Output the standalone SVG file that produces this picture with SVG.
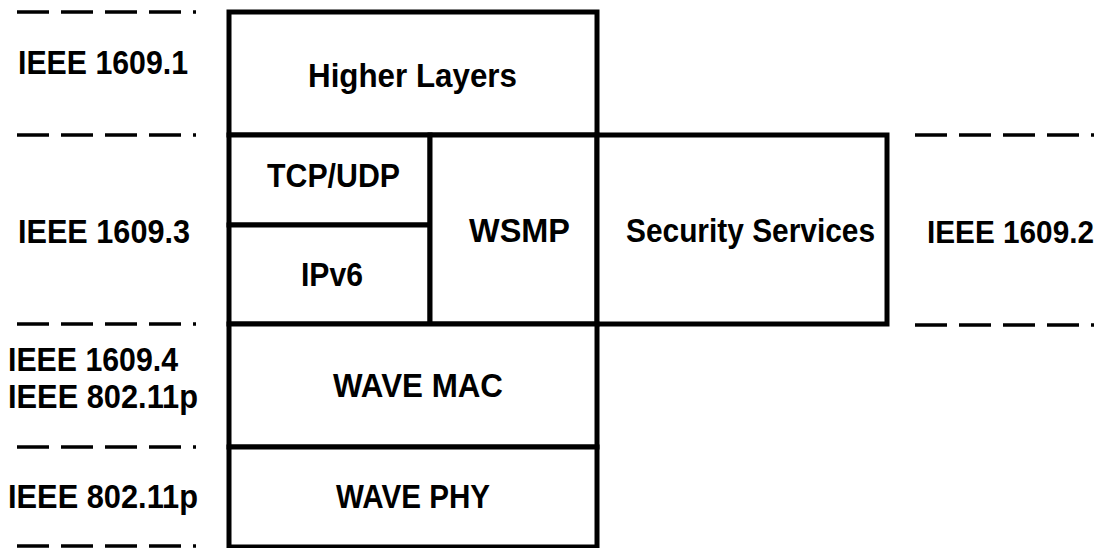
<svg xmlns="http://www.w3.org/2000/svg" width="1108" height="548" viewBox="0 0 1108 548">
  <style>
    .box { fill: #ffffff; stroke: #000000; stroke-width: 5; }
    .sep { stroke: #000000; stroke-width: 3.5; stroke-dasharray: 32 12; fill: none; }
    text { font-family: "Liberation Sans", Arial, sans-serif; font-weight: bold; font-size: 33px; fill: #000000; }
    .edge { font-size: 31px; }
  </style>
  <rect x="0" y="0" width="1108" height="548" fill="#ffffff"/>

  <!-- dashed layer separators -->
  <g id="connectors">
    <line class="sep" x1="17" y1="12" x2="196" y2="12"/>
    <line class="sep" x1="17" y1="135" x2="196" y2="135"/>
    <line class="sep" x1="17" y1="324" x2="196" y2="324"/>
    <line class="sep" x1="17" y1="447" x2="196" y2="447"/>
    <line class="sep" x1="17" y1="546" x2="196" y2="546"/>
    <line class="sep" x1="915" y1="135" x2="1094" y2="135"/>
    <line class="sep" x1="915" y1="325" x2="1094" y2="325"/>
  </g>

  <!-- protocol stack -->
  <g id="higher-layers">
    <rect class="box" x="229" y="12" width="368" height="123"/>
    <text x="308" y="87" textLength="209" lengthAdjust="spacingAndGlyphs">Higher Layers</text>
  </g>
  <g id="tcp-udp">
    <rect class="box" x="229" y="135" width="201" height="90"/>
    <text x="267" y="187" textLength="133" lengthAdjust="spacingAndGlyphs">TCP/UDP</text>
  </g>
  <g id="ipv6">
    <rect class="box" x="229" y="225" width="201" height="99"/>
    <text x="301" y="286" textLength="62" lengthAdjust="spacingAndGlyphs">IPv6</text>
  </g>
  <g id="wsmp">
    <rect class="box" x="430" y="135" width="167" height="189"/>
    <text x="469" y="242" textLength="101" lengthAdjust="spacingAndGlyphs">WSMP</text>
  </g>
  <g id="security-services">
    <rect class="box" x="597" y="135" width="290" height="189"/>
    <text x="626" y="242" textLength="249" lengthAdjust="spacingAndGlyphs">Security Services</text>
  </g>
  <g id="wave-mac">
    <rect class="box" x="229" y="324" width="368" height="123"/>
    <text x="333" y="397" textLength="170" lengthAdjust="spacingAndGlyphs">WAVE MAC</text>
  </g>
  <g id="wave-phy">
    <rect class="box" x="229" y="447" width="368" height="100"/>
    <text x="336" y="508" textLength="154" lengthAdjust="spacingAndGlyphs">WAVE PHY</text>
  </g>

  <!-- standard labels -->
  <g id="labels">
    <text x="18" y="74" textLength="170" lengthAdjust="spacingAndGlyphs">IEEE 1609.1</text>
    <text x="18" y="243" textLength="172" lengthAdjust="spacingAndGlyphs">IEEE 1609.3</text>
    <text class="edge" x="927" y="243" textLength="167" lengthAdjust="spacingAndGlyphs">IEEE 1609.2</text>
    <text x="8" y="371" textLength="170" lengthAdjust="spacingAndGlyphs">IEEE 1609.4</text>
    <text x="8" y="408" textLength="190" lengthAdjust="spacingAndGlyphs">IEEE 802.11p</text>
    <text x="8" y="508" textLength="190" lengthAdjust="spacingAndGlyphs">IEEE 802.11p</text>
  </g>
</svg>
